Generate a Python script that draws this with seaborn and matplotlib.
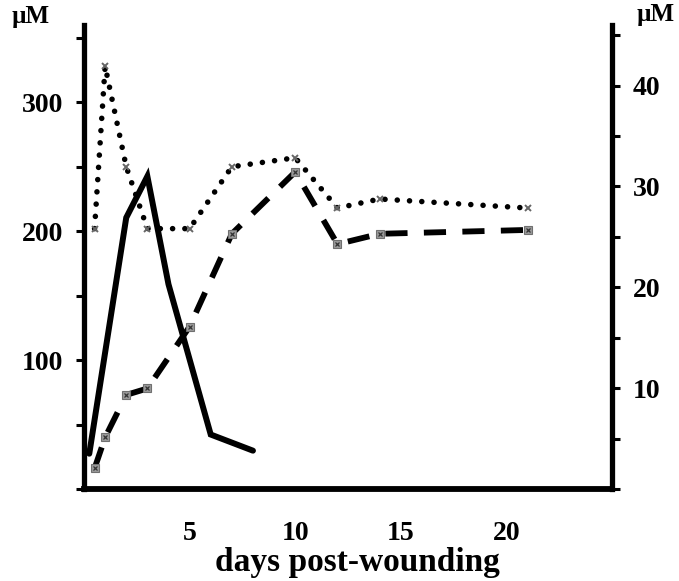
import matplotlib
matplotlib.use("Agg")
import matplotlib.pyplot as plt
import seaborn as sns

# values (left axis uM for dotted/dashed, right axis uM for solid)
days_dotted = [0.5, 1, 2, 3, 5, 7, 10, 12, 14, 21]
dotted_um = [202, 328, 250, 202, 202, 250, 257, 218, 225, 218]
days_dashed = [0.5, 1, 2, 3, 5, 7, 10, 12, 14, 21]
dashed_um = [16, 40, 73, 78, 126, 198, 246, 190, 198, 201]
days_solid = [0.25, 2, 3, 4, 6, 8]
solid_um = [3.5, 26.9, 31.0, 20.3, 5.4, 3.8]

x_ticks = [0, 5, 10, 15, 20, 25]
x_labels = ['', '5', '10', '15', '20', '']
left_ticks = [0, 50, 100, 150, 200, 250, 300, 350]
left_labels = ['', '', '100', '', '200', '', '300', '']
right_ticks = [0, 5, 10, 15, 20, 25, 30, 35, 40, 45]
right_labels = ['', '', '10', '', '20', '', '30', '', '40', '']

sns.set_style("white", {'axes.edgecolor': 'black', 'text.color': 'black',
                        'xtick.color': 'black', 'ytick.color': 'black'})
plt.rcParams['font.family'] = ['Liberation Serif', 'DejaVu Serif']
plt.rcParams['font.weight'] = 'bold'

fig = plt.figure(figsize=(6.79, 5.81), dpi=100)
ax = fig.add_axes([84 / 679, 92 / 581, 528 / 679, 464 / 581])
ax2 = ax.twinx()

# dotted series with small x markers
sns.lineplot(x=days_dotted, y=dotted_um, ax=ax, color='black', linewidth=4.0,
             linestyle=(0, (0.01, 2.2)), dash_capstyle='round',
             marker='x', markersize=5, markeredgecolor='#666666', markeredgewidth=1.4)

# dashed series with grey square markers
sns.lineplot(x=days_dashed, y=dashed_um, ax=ax, color='black', linewidth=4.2,
             linestyle=(0, (3.8, 2.8)), marker='s', markersize=6,
             markerfacecolor='#9a9a9a', markeredgecolor='#707070', markeredgewidth=0.8)
sns.lineplot(x=days_dashed, y=dashed_um, ax=ax, color='#444444', linestyle='none',
             marker='x', markersize=3.5, markeredgecolor='#333333', markeredgewidth=0.9)

# solid series on the right axis
sns.lineplot(x=days_solid, y=solid_um, ax=ax2, color='black', linewidth=4.3,
             solid_joinstyle='miter')

ax.set_xlim(0, 25)
ax.set_ylim(0, 360)
ax2.set_ylim(0, 46)

ax.set_xticks(x_ticks)
ax.set_xticklabels(x_labels)
ax.set_yticks(left_ticks)
ax.set_yticklabels(left_labels)
ax2.set_yticks(right_ticks)
ax2.set_yticklabels(right_labels)

for a in (ax, ax2):
    a.spines['top'].set_visible(False)
    a.grid(False)
    for s in a.spines.values():
        s.set_color('black')
ax.spines['right'].set_visible(False)
ax2.spines['left'].set_visible(False)
ax2.spines['bottom'].set_visible(False)
ax.spines['left'].set_linewidth(3.8)
ax.spines['bottom'].set_linewidth(4.2)
ax2.spines['right'].set_linewidth(3.8)

ax.tick_params(axis='x', direction='inout', length=12, width=2.2, pad=17,
               labelsize=20, colors='black')
ax.tick_params(axis='y', direction='out', length=6, width=2.2, pad=9,
               labelsize=20, left=True, colors='black')
ax2.tick_params(axis='y', direction='out', length=6, width=2.2, pad=9,
                labelsize=20, right=True, colors='black')

ax.set_xlabel('days post-wounding', fontsize=24, fontweight='bold', color='black')
ax.xaxis.set_label_coords((357 - 84) / 528, -0.125)
ax.set_ylabel('')
ax2.set_ylabel('')

fig.text(31 / 679, 1 - 17 / 581, 'µM', ha='center', va='center', fontsize=18,
         fontweight='bold', color='black')
fig.text(656 / 679, 1 - 15 / 581, 'µM', ha='center', va='center', fontsize=18,
         fontweight='bold', color='black')

fig.savefig('out.png', dpi=100)
